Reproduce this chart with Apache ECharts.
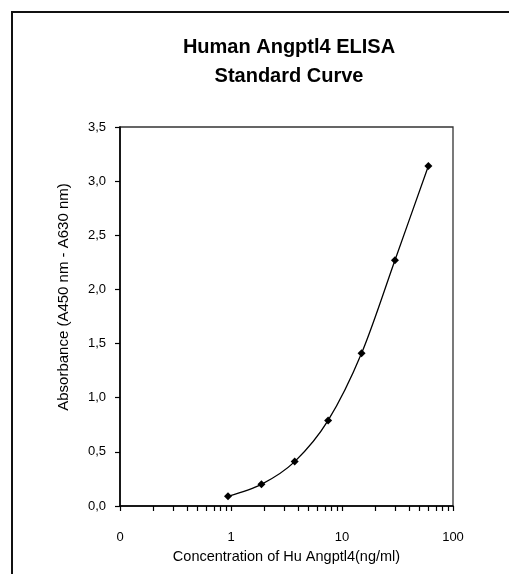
<!DOCTYPE html>
<html>
<head>
<meta charset="utf-8">
<script src="https://cdn.jsdelivr.net/npm/echarts@6/dist/echarts.min.js"></script>
<style>
html,body{margin:0;padding:0;background:#fff;}
#chart{width:509px;height:574px;}
</style>
</head>
<body>
<div id="chart"></div>
<script>
// ---- data ----
const concentrations = [0.94, 1.88, 3.75, 7.5, 15, 30, 60];      // ng/ml
const absorbance     = [0.09, 0.20, 0.41, 0.79, 1.41, 2.27, 3.14];   // A450 - A630
const xLabelValues   = [0.1, 1, 10, 100];
const xLabelTexts    = ['0', '1', '10', '100'];
const xTickValues    = [0.1,0.2,0.3,0.4,0.5,0.6,0.7,0.8,0.9,
                        1,2,3,4,5,6,7,8,9,
                        10,20,30,40,50,60,70,80,90,100];
const yTicks         = [0, 0.5, 1, 1.5, 2, 2.5, 3, 3.5];
const titleLines     = ['Human Angptl4 ELISA', 'Standard Curve'];
const xName = 'Concentration of Hu Angptl4(ng/ml)';
const yName = 'Absorbance (A450 nm - A630 nm)';

const FONT = "'Liberation Sans', Arial, sans-serif";
const chart = echarts.init(document.getElementById('chart'), null, {renderer:'canvas'});

const pts = concentrations.map((c, i) => [c, absorbance[i]]);

chart.setOption({
  animation: false,
  backgroundColor: '#fff',
  grid: {left: 120, right: 56, top: 127, bottom: 68, show: true,
         borderColor: '#333', borderWidth: 1.3, containLabel: false},
  xAxis: {
    type: 'log', logBase: 10, min: 0.1, max: 100,
    name: xName, nameLocation: 'middle', nameGap: 43,
    nameTextStyle: {fontFamily: FONT, fontSize: 14.5, color: '#000'},
    axisLine: {show: true, lineStyle: {color: '#000', width: 1.6}},
    axisTick: {show: true, inside: false, length: 5, customValues: xTickValues,
               lineStyle: {color: '#000', width: 1.2}},
    axisLabel: {show: true, margin: 25, customValues: xLabelValues,
                fontFamily: FONT, fontSize: 13, color: '#000',
                formatter: function (v) {
                  const i = xLabelValues.findIndex(t => Math.abs(Math.log10(t) - Math.log10(v)) < 1e-6);
                  return i >= 0 ? xLabelTexts[i] : '';
                }},
    splitLine: {show: false},
    minorTick: {show: false}
  },
  yAxis: {
    type: 'value', min: 0, max: 3.5, interval: 0.5,
    axisLine: {show: true, lineStyle: {color: '#000', width: 1.6}},
    axisTick: {show: true, inside: false, length: 5, lineStyle: {color: '#000', width: 1.2}},
    axisLabel: {margin: 14, fontFamily: FONT, fontSize: 13, color: '#000',
                formatter: v => v.toFixed(1).replace('.', ',')},
    splitLine: {show: false}
  },
  series: [{
    type: 'line',
    data: pts,
    smooth: 0.3,
    symbol: 'diamond',
    symbolSize: 8,
    itemStyle: {color: '#000'},
    lineStyle: {color: '#000', width: 1.3},
    z: 5
  }],
  graphic: [
    {type: 'rect', shape: {x: 12, y: 12, width: 700, height: 700},
     style: {fill: 'none', stroke: '#111', lineWidth: 2}, silent: true, z: 100},
    {type: 'text', x: 289, y: 47,
     style: {text: titleLines[0], font: "bold 20px " + FONT, fill: '#000',
             textAlign: 'center', textVerticalAlign: 'middle'}},
    {type: 'text', x: 289, y: 76,
     style: {text: titleLines[1], font: "bold 20px " + FONT, fill: '#000',
             textAlign: 'center', textVerticalAlign: 'middle'}},
    {type: 'text', x: 64, y: 297, rotation: Math.PI / 2,
     style: {text: yName, font: "15px " + FONT, fill: '#000',
             textAlign: 'center', textVerticalAlign: 'middle'}}
  ]
});
</script>
</body>
</html>
